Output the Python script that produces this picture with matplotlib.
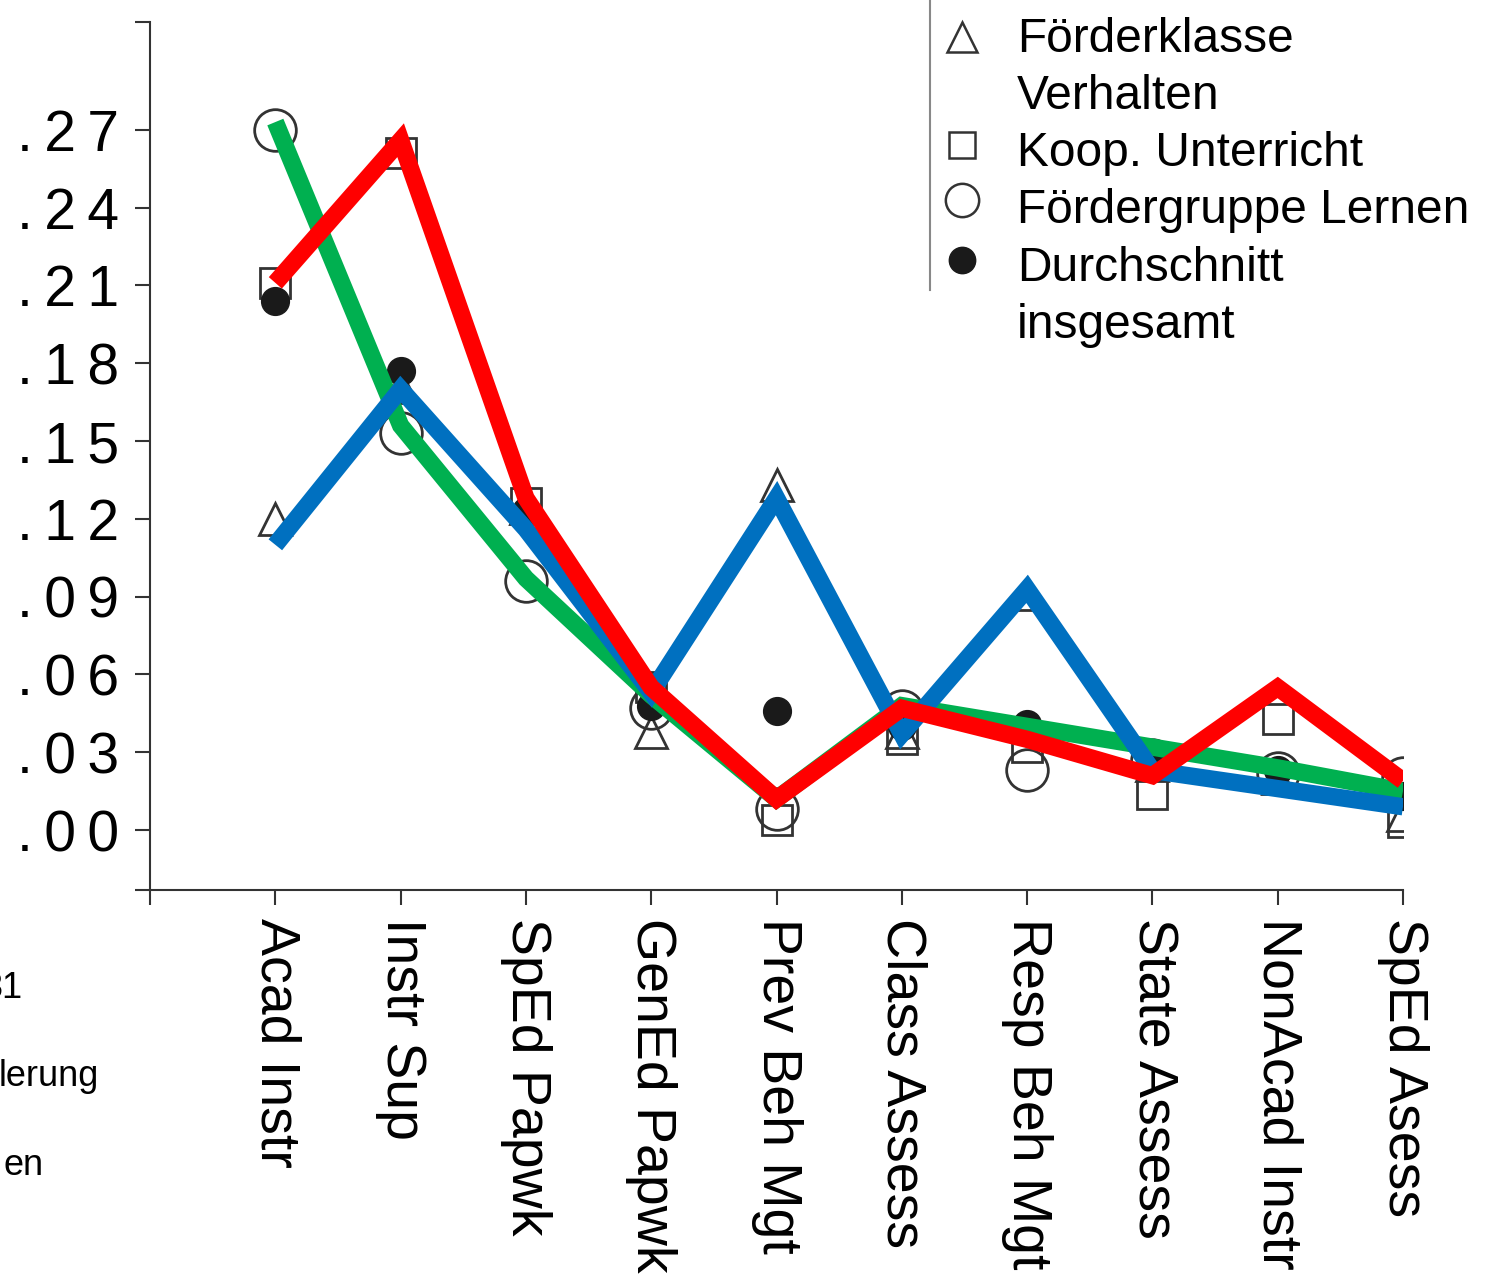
import matplotlib.pyplot as plt
import numpy as np

plt.rcParams['font.family'] = ['Liberation Sans', 'DejaVu Sans']

# categories (x axis)
categories = ['Acad Instr', 'Instr Sup', 'SpEd Papwk', 'GenEd Papwk', 'Prev Beh Mgt',
              'Class Assess', 'Resp Beh Mgt', 'State Assess', 'NonAcad Instr', 'SpEd Asess']

# scatter groups (black markers)
foerderklasse = [0.120, 0.171, 0.124, 0.038, 0.133, 0.038, 0.091, 0.025, 0.020, 0.006]
koop = [0.211, 0.261, 0.126, 0.055, 0.004, 0.035, 0.032, 0.014, 0.043, 0.003]
foerdergruppe = [0.270, 0.153, 0.096, 0.047, 0.008, 0.046, 0.023, 0.027, 0.022, 0.020]
durchschnitt = [0.204, 0.177, 0.123, 0.048, 0.046, 0.040, 0.041, 0.025, 0.023, 0.013]

# coloured overlay lines
green_line = [0.273, 0.156, 0.097, 0.052, 0.012, 0.048, 0.040, 0.032, 0.024, 0.015]
red_line = [0.211, 0.266, 0.128, 0.055, 0.012, 0.047, 0.035, 0.021, 0.055, 0.019]
blue_line = [0.110, 0.170, 0.116, 0.053, 0.128, 0.037, 0.093, 0.023, 0.016, 0.009]

ytick_vals = [0.00, 0.03, 0.06, 0.09, 0.12, 0.15, 0.18, 0.21, 0.24, 0.27]
ytick_labels = ['.00', '.03', '.06', '.09', '.12', '.15', '.18', '.21', '.24', '.27']

legend_labels = ['Förderklasse', 'Verhalten', 'Koop. Unterricht', 'Fördergruppe Lernen',
                 'Durchschnitt', 'insgesamt']

fig = plt.figure(figsize=(14.9, 12.83), dpi=100)
ax = fig.add_axes([0.1007, 0.3063, 0.8409, 0.6766])

x = np.arange(1, len(categories) + 1)
ec = '#333333'

# markers
ax.plot(x, foerderklasse, ls='none', marker='^', ms=23, mfc='none', mec=ec, mew=2, zorder=2)
ax.plot(x, koop, ls='none', marker='s', ms=21, mfc='none', mec=ec, mew=2, zorder=2)
ax.plot(x, foerdergruppe, ls='none', marker='o', ms=30, mfc='none', mec=ec, mew=2, zorder=2)
ax.plot(x, durchschnitt, ls='none', marker='o', ms=20, mfc='#1a1a1a', mec='#1a1a1a', zorder=2)

# thick coloured lines on top
kw = dict(lw=12.5, solid_capstyle='butt', solid_joinstyle='miter', zorder=3)
ax.plot(x, green_line, color='#00B050', **kw)
ax.plot(x, blue_line, color='#0070C0', **kw)
ax.plot(x, red_line, color='#FF0000', **kw)

ylo, yhi = -0.0231, 0.3116
ax.set_xlim(0, 10)
ax.set_ylim(ylo, yhi)

ax.set_xticks(np.arange(0, 11))
ax.set_xticklabels([''] + categories, rotation=-90, fontsize=40, va='top', ha='center')
ax.set_yticks(ytick_vals)
# letter-spaced like the scanned original
ax.set_yticklabels(['\u2009'.join(t) for t in ytick_labels], fontsize=41)
ax.set_yticks([ylo, yhi], minor=True)
ax.tick_params(axis='both', which='both', direction='out', length=11, width=1.5, color=ec)
ax.tick_params(axis='y', which='major', pad=11)
ax.tick_params(axis='x', which='major', pad=9)

for s in ['top', 'right']:
    ax.spines[s].set_visible(False)
for s in ['left', 'bottom']:
    ax.spines[s].set_color(ec)
    ax.spines[s].set_linewidth(1.5)

# overlay in pixel coordinates for legend and cropped fragments
ov = fig.add_axes([0, 0, 1, 1])
ov.set_xlim(0, 1490)
ov.set_ylim(1283, 0)
ov.axis('off')
ov.patch.set_visible(False)

ov.plot([930, 930], [0, 290], color='#888888', lw=1.5)
ov.plot([962], [37], ls='none', marker='^', ms=22, mfc='none', mec=ec, mew=1.8)
ov.plot([962], [145], ls='none', marker='s', ms=19, mfc='none', mec=ec, mew=1.8)
ov.plot([962], [200], ls='none', marker='o', ms=24, mfc='none', mec=ec, mew=1.8)
ov.plot([962], [260], ls='none', marker='o', ms=19, mfc='#1a1a1a', mec='#1a1a1a')

baselines = [52, 109, 166, 223, 281, 338]
for lab, yb in zip(legend_labels, baselines):
    ov.text(1017, yb, lab, fontsize=34.5, va='baseline', ha='left')

# cropped text fragments at the left edge
ov.text(23, 998, '31', fontsize=26, ha='right', va='baseline')
ov.text(99, 1086, 'lerung', fontsize=26, ha='right', va='baseline')
ov.text(44, 1175, 'en', fontsize=26, ha='right', va='baseline')

fig.savefig('out.png', dpi=100)
